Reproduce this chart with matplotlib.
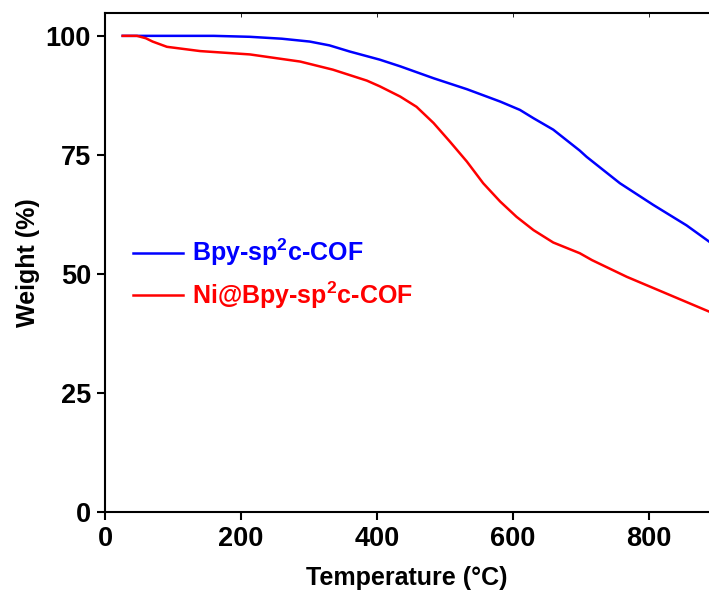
import numpy as np
import matplotlib as mpl
mpl.use('Agg')
import matplotlib.pyplot as plt

plt.rcParams['font.family'] = ['Liberation Sans', 'DejaVu Sans']
plt.rcParams['font.weight'] = 'bold'
plt.rcParams['mathtext.fontset'] = 'custom'
plt.rcParams['mathtext.bf'] = 'Liberation Sans:bold'
plt.rcParams['mathtext.rm'] = 'Liberation Sans:bold'

# TGA curves
temp_cof = [26, 100, 160, 213, 260, 301, 330, 360, 404, 434, 483, 532, 581, 610,
            630, 659, 698, 708, 757, 806, 855, 888]
wt_cof = [100.0, 100.0, 100.0, 99.8, 99.4, 98.8, 98.0, 96.7, 95.0, 93.6, 91.1, 88.8, 86.2, 84.45,
          82.7, 80.3, 75.9, 74.6, 69.05, 64.5, 60.2, 56.8]

temp_ni = [26, 47, 60, 70, 91, 140, 213, 287, 335, 385, 404, 434, 458, 483, 507, 532, 556,
           581, 605, 630, 659, 698, 716, 767, 830, 888]
wt_ni = [100.0, 100.0, 99.5, 98.8, 97.7, 96.8, 96.1, 94.6, 92.9, 90.6, 89.4, 87.25, 85.1, 81.7,
         77.8, 73.6, 69.05, 65.2, 62.0, 59.2, 56.6, 54.35, 52.9, 49.4, 45.6, 42.1]

labels = [r"Bpy-sp$^{\mathbf{2}}$c-COF", r"Ni@Bpy-sp$^{\mathbf{2}}$c-COF"]

fs = 19.5

fig = plt.figure(figsize=(7.09, 5.96), dpi=100)
ax = fig.add_axes([105/709, 84/596, 604/709, 499/596])

ax.plot(temp_cof, wt_cof, color='#0000ff', lw=1.8, label=labels[0])
ax.plot(temp_ni, wt_ni, color='#ff0000', lw=1.8, label=labels[1])

ax.set_xlim(0, 888)
ax.set_ylim(0, 104.8)
ax.set_xticks([0, 200, 400, 600, 800])
ax.set_yticks([0, 25, 50, 75, 100])

for side in ['left', 'bottom', 'top']:
    ax.spines[side].set_linewidth(1.5)
ax.spines['right'].set_visible(False)

ax.tick_params(axis='both', direction='out', length=6, width=1.5, labelsize=fs, pad=4)
ax.tick_params(axis='x', top=True, which='major')
for t in ax.xaxis.get_ticklines()[1::2]:
    t.set_marker(3)
    t.set_markersize(3)
    t.set_markeredgewidth(0.6)
    t.set_color('0.6')

ax.set_xlabel("Temperature (°C)", fontsize=18, fontweight='bold', labelpad=10)
ax.set_ylabel("Weight (%)", fontsize=18, fontweight='bold', labelpad=4)

leg = ax.legend(loc='center left', bbox_to_anchor=(0.046, 0.477), frameon=False,
                fontsize=18, handlelength=2.0, handletextpad=0.36, labelspacing=0.45,
                borderpad=0, borderaxespad=0, labelcolor='linecolor')

fig.savefig('out.png', dpi=100)
